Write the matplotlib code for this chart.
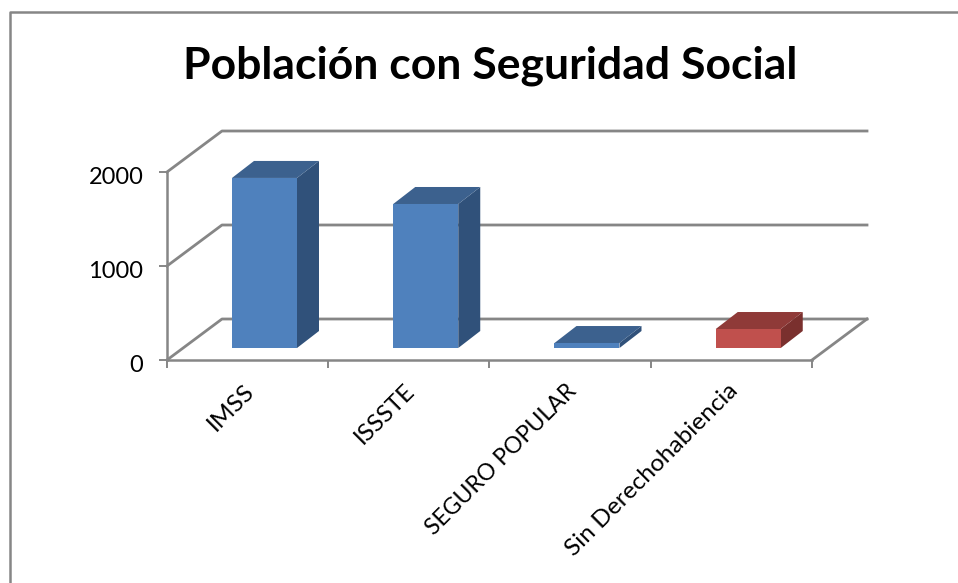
#!/usr/bin/env python3
import matplotlib
matplotlib.use("Agg")
import matplotlib.pyplot as plt
from matplotlib.lines import Line2D
from matplotlib.transforms import ScaledTranslation

categorias = ["IMSS", "ISSSTE", "SEGURO POPULAR", "Sin Derechohabiencia"]
valores = [1809, 1532, 53, 202]
yticks = [0, 1000, 2000]

# colores de cada barra: frente, tapa, lado
azul = ("#4f81bd", "#3c618e", "#30517a")
rojo = ("#c0504d", "#8f3a38", "#7a302e")
colores = [azul, azul, azul, rojo]

# las mayusculas de Lato salen mas anchas que en el original
tamanos = [17.6, 17.6, 16.6, 17.6]

GRIS = "#868686"
W, H = 958, 583

plt.rcParams["font.family"] = ["Lato", "DejaVu Sans"]

fig = plt.figure(figsize=(W / 100, H / 100), dpi=100)
ax = fig.add_axes([167 / W, 1 - 360 / H, 645 / W, 188 / H])
ax.set_xlim(0, 4)
ax.set_ylim(0, 2000)
ax.patch.set_alpha(0)

# pixeles a unidades de datos
px = 4 / 645
py = 2000 / 188

# profundidad de la pared y de las barras
fondo_x, fondo_y = 55 * px, 41 * py
prof_x, prof_y = 22 * px, 17 * py
base_x, base_y = 65 * px, 12 * py
ancho = 65 * px

# pared y piso
for y in yticks:
    ax.plot([0, fondo_x, 4 + fondo_x], [y, y + fondo_y, y + fondo_y],
            color=GRIS, lw=2, clip_on=False, zorder=1)
ax.plot([4, 4 + fondo_x], [0, fondo_y], color=GRIS, lw=2, clip_on=False, zorder=1)

# barras
for i, v in enumerate(valores):
    x0 = i + base_x
    x1 = x0 + ancho
    y0 = base_y
    y1 = base_y + v
    frente, tapa, lado = colores[i]
    ax.fill([x1, x1 + prof_x, x1 + prof_x, x1],
            [y0, y0 + prof_y, y1 + prof_y, y1], color=lado, lw=0, clip_on=False, zorder=3)
    ax.fill([x0, x0 + prof_x, x1 + prof_x, x1],
            [y1, y1 + prof_y, y1 + prof_y, y1], color=tapa, lw=0, clip_on=False, zorder=3)
    ax.fill([x0, x1, x1, x0], [y0, y0, y1, y1], color=frente, lw=0, clip_on=False, zorder=4)

for lado in ["top", "right"]:
    ax.spines[lado].set_visible(False)
for lado in ["left", "bottom"]:
    ax.spines[lado].set_color(GRIS)
    ax.spines[lado].set_linewidth(1.8)

ax.set_yticks(yticks)
ax.set_xticks(range(5))
ax.set_xticklabels([])
ax.tick_params(axis="y", color=GRIS, width=1.4, length=6, labelsize=17, pad=11, labelcolor="black")
ax.tick_params(axis="x", color=GRIS, width=1.4, length=6)

# bajar un poco los numeros del eje y
bajar = ScaledTranslation(0, -3 / 100, fig.dpi_scale_trans)
for t in ax.get_yticklabels():
    t.set_transform(t.get_transform() + bajar)

# etiquetas giradas, ancladas por la esquina superior derecha
for i, c in enumerate(categorias):
    ax.annotate(c, xy=(i + 0.5, 0), xycoords="data", xytext=(2, -20),
                textcoords="offset points", rotation=45, rotation_mode="anchor",
                ha="right", va="center", fontsize=tamanos[i], color="black", annotation_clip=False)

fig.text(490 / W, 1 - 66 / H, "Población con Seguridad Social", ha="center", va="center",
         fontsize=32, fontweight="bold", color="black")

# borde del grafico
fig.add_artist(Line2D([9.5 / W, 9.5 / W, 1], [0, 1 - 12 / H, 1 - 12 / H],
                      color=GRIS, lw=1.8, transform=fig.transFigure))

fig.savefig("out.png", dpi=100, facecolor="white")
